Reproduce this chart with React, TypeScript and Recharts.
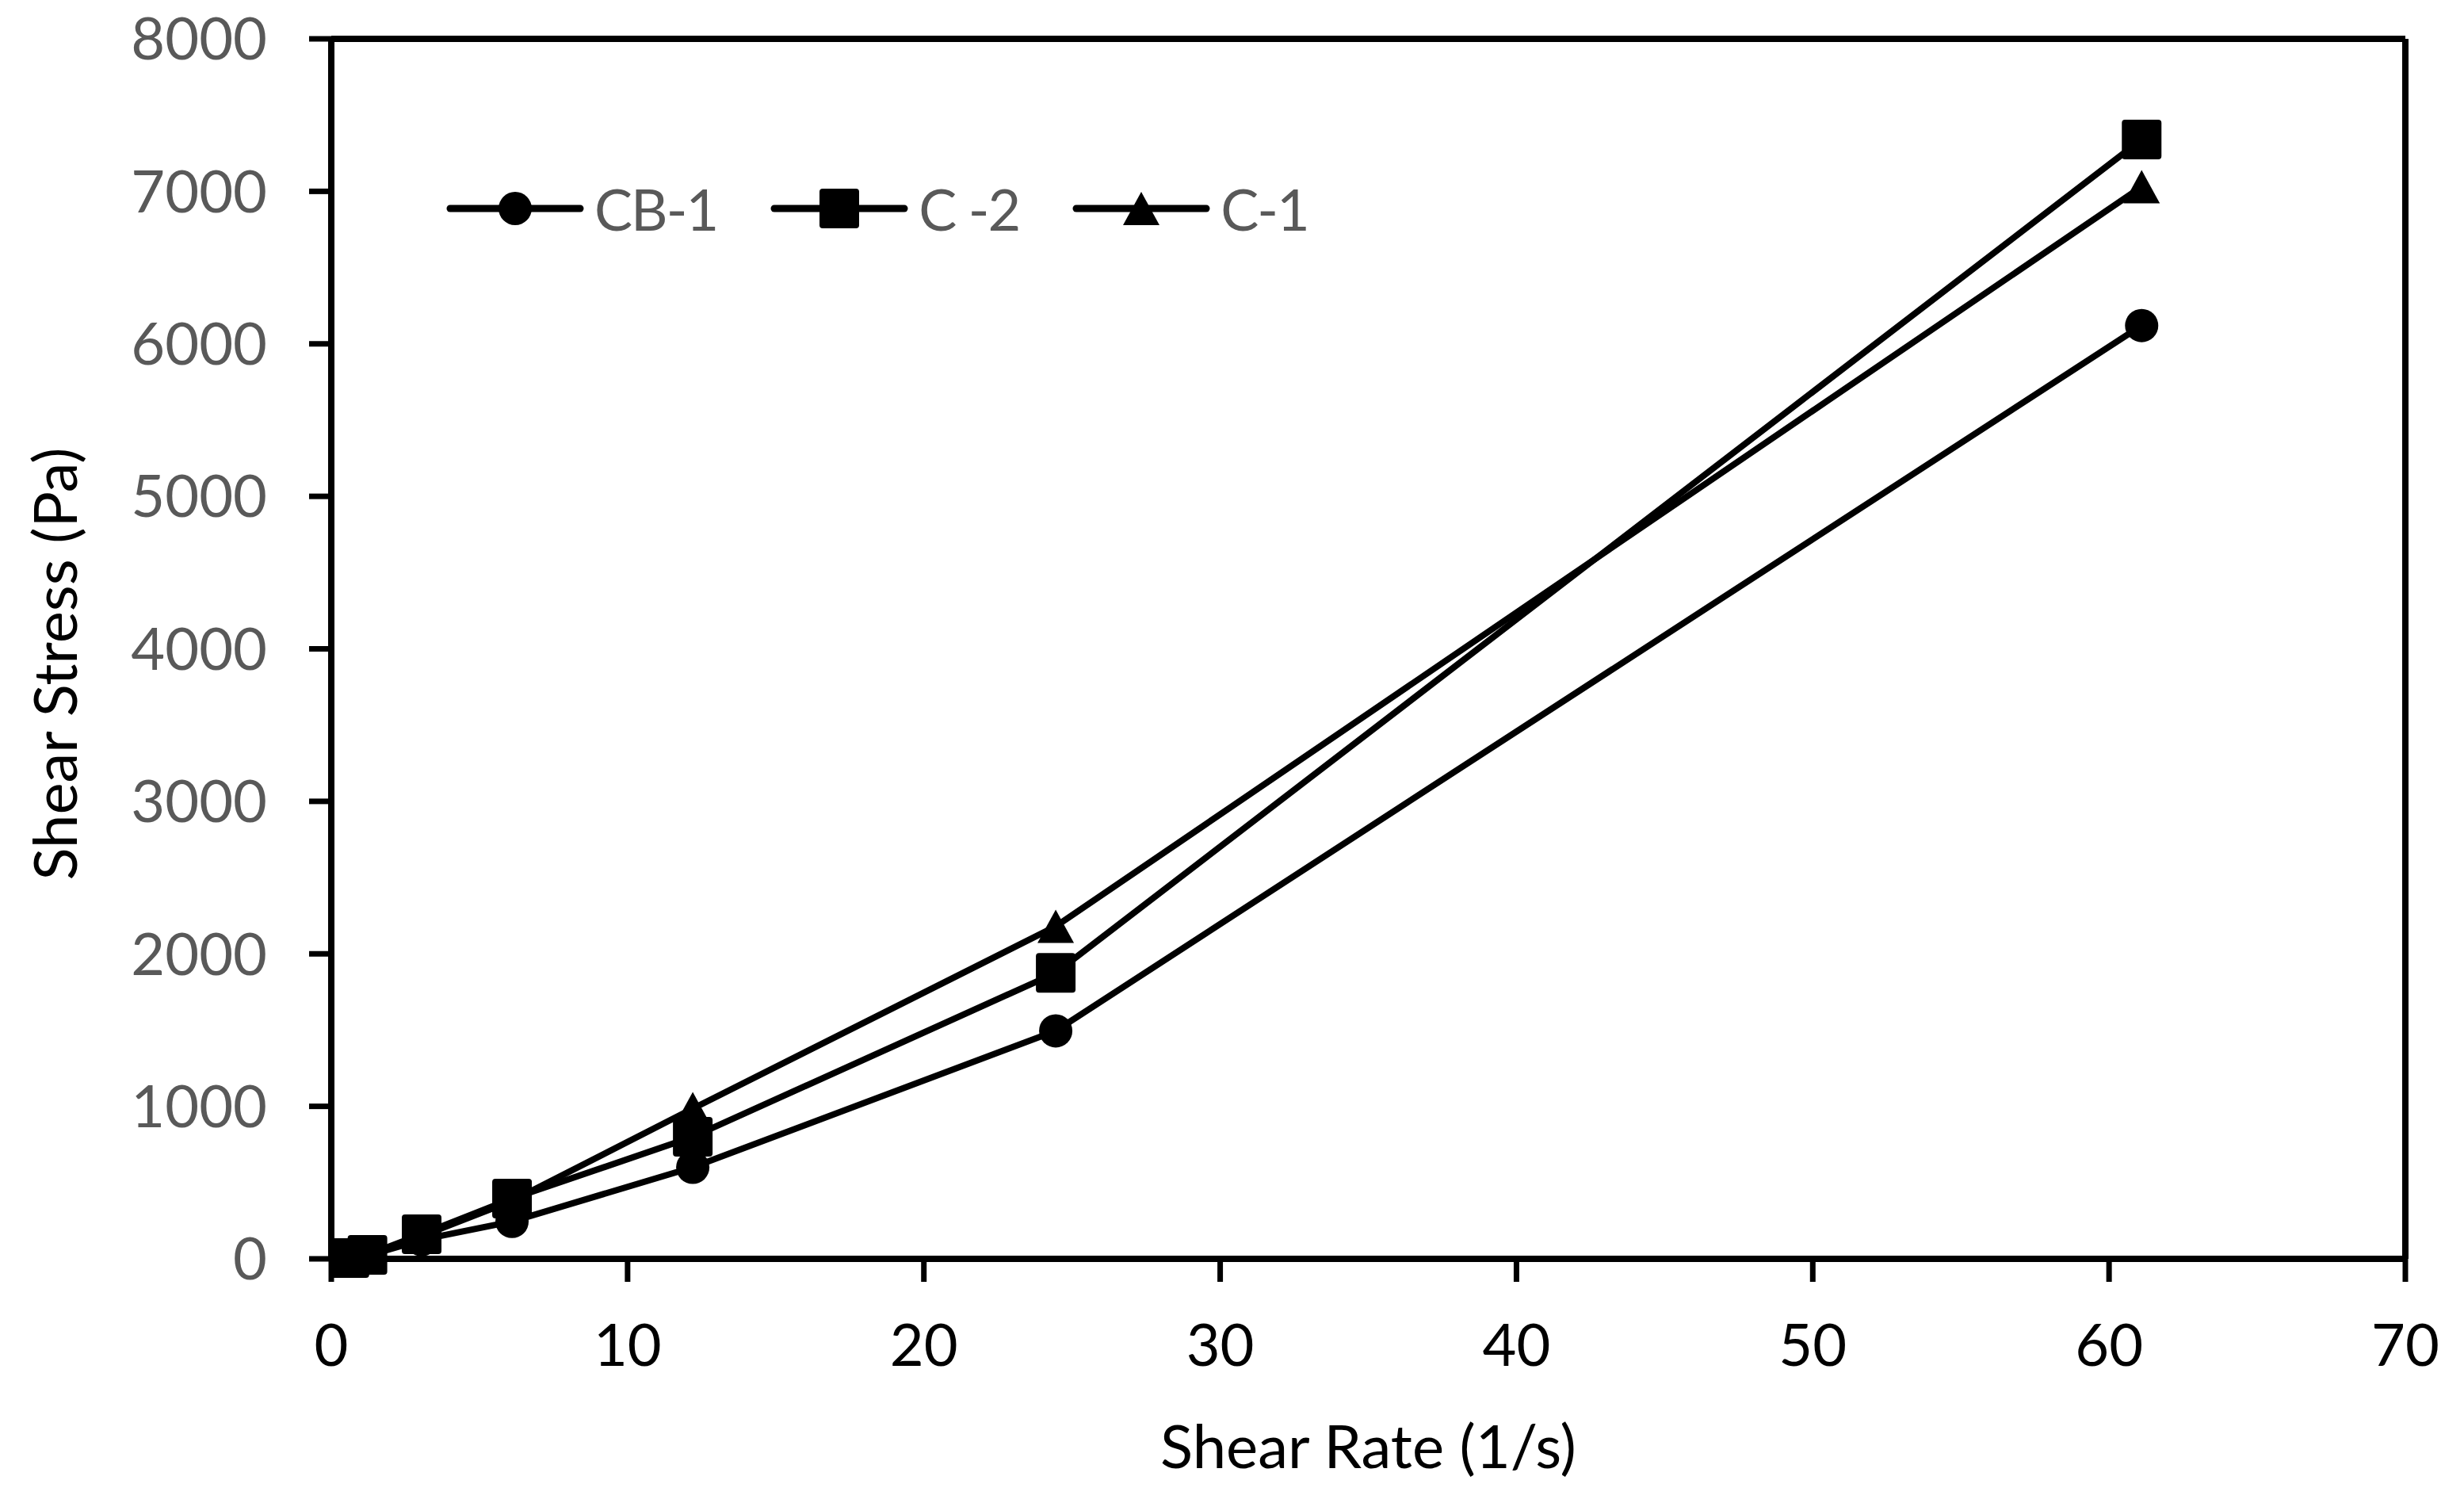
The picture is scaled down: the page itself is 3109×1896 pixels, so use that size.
import { LineChart, Line, XAxis, YAxis, Legend, Label, ReferenceLine } from 'recharts';

const shearRate = [0.61, 1.22, 3.05, 6.1, 12.2, 24.45, 61.1];
const cb1 = [5, 20, 125, 245, 600, 1495, 6120];
const c2 = [5, 26, 161, 395, 800, 1875, 7340];
const c1 = [5, 25, 150, 380, 985, 2180, 7030];

const xTicks = [0, 10, 20, 30, 40, 50, 60, 70];
const yTicks = [0, 1000, 2000, 3000, 4000, 5000, 6000, 7000, 8000];

const seriesInfo = [
  { key: 'cb1', name: 'CB-1', shape: 'circle' },
  { key: 'c2', name: 'C -2', shape: 'square' },
  { key: 'c1', name: 'C-1', shape: 'triangle' },
];

const data = shearRate.map((rate, i) => ({ rate, cb1: cb1[i], c2: c2[i], c1: c1[i] }));

const FONT = 'Lato, "Liberation Sans", sans-serif';

function marker(shape: string, cx: number, cy: number, key?: string) {
  if (shape === 'circle') return <circle key={key} cx={cx} cy={cy} r={21} fill="#000" />;
  if (shape === 'square')
    return <rect key={key} x={cx - 25} y={cy - 25} width={50} height={50} rx={4} fill="#000" />;
  return (
    <path
      key={key}
      d={`M${cx},${cy - 21} L${cx + 23},${cy + 21} L${cx - 23},${cy + 21} Z`}
      fill="#000"
    />
  );
}

const dotFor = (shape: string) => (props: any) => {
  const { cx, cy, index } = props;
  if (cx == null || cy == null) return <g key={`${shape}-${index}`} />;
  return marker(shape, cx, cy, `${shape}-${index}`);
};

function LegendContent() {
  return (
    <div style={{ display: 'flex', alignItems: 'center', fontFamily: FONT }}>
      {seriesInfo.map((s) => (
        <div key={s.key} style={{ display: 'flex', alignItems: 'center', marginRight: 66 }}>
          <svg width={176} height={60}>
            <line x1={6} y1={30} x2={170} y2={30} stroke="#000" strokeWidth={9} strokeLinecap="round" />
            {marker(s.shape, 88, 30)}
          </svg>
          <span style={{ fontSize: 72, letterSpacing: -2, color: '#595959', marginLeft: 12, lineHeight: 1 }}>
            {s.name}
          </span>
        </div>
      ))}
    </div>
  );
}

export default function App() {
  return (
    <div style={{ position: 'absolute', left: 0, top: 0, width: 3109, height: 1896, background: '#fff', fontFamily: FONT }}>
      <LineChart width={3109} height={1896} data={data} margin={{ top: 49, right: 74, bottom: 0, left: 0 }}>
        <XAxis
          type="number"
          dataKey="rate"
          domain={[0, 70]}
          ticks={xTicks}
          height={308}
          tickSize={29}
          tickMargin={53}
          axisLine={{ stroke: '#000', strokeWidth: 8 }}
          tickLine={{ stroke: '#000', strokeWidth: 7 }}
          tick={{ fill: '#000', fontSize: 74, fontFamily: FONT }}
        >
          <Label
            value="Shear Rate (1/s)"
            position="insideBottom"
            offset={44}
            style={{ fill: '#000', fontSize: 76, fontFamily: FONT }}
          />
        </XAxis>
        <YAxis
          type="number"
          domain={[0, 8000]}
          ticks={yTicks}
          width={418}
          tickSize={28}
          tickMargin={53}
          axisLine={{ stroke: '#000', strokeWidth: 8 }}
          tickLine={{ stroke: '#000', strokeWidth: 7 }}
          tick={{ fill: '#595959', fontSize: 74, fontFamily: FONT }}
        >
          <Label
            value="Shear Stress (Pa)"
            angle={-90}
            position="center"
            dx={-139}
            dy={19}
            style={{ fill: '#000', fontSize: 76, fontFamily: FONT }}
          />
        </YAxis>
        <ReferenceLine y={8000} stroke="#000" strokeWidth={8} />
        <ReferenceLine x={70} stroke="#000" strokeWidth={8} />
        <Legend
          layout="horizontal"
          verticalAlign="middle"
          align="center"
          content={<LegendContent />}
          wrapperStyle={{ top: 227, left: 562, width: 1300, height: 60 }}
        />
        {seriesInfo.map((s) => (
          <Line
            key={s.key}
            type="linear"
            dataKey={s.key}
            name={s.name}
            stroke="#000"
            strokeWidth={8}
            dot={dotFor(s.shape)}
            activeDot={false}
            isAnimationActive={false}
          />
        ))}
      </LineChart>
    </div>
  );
}
